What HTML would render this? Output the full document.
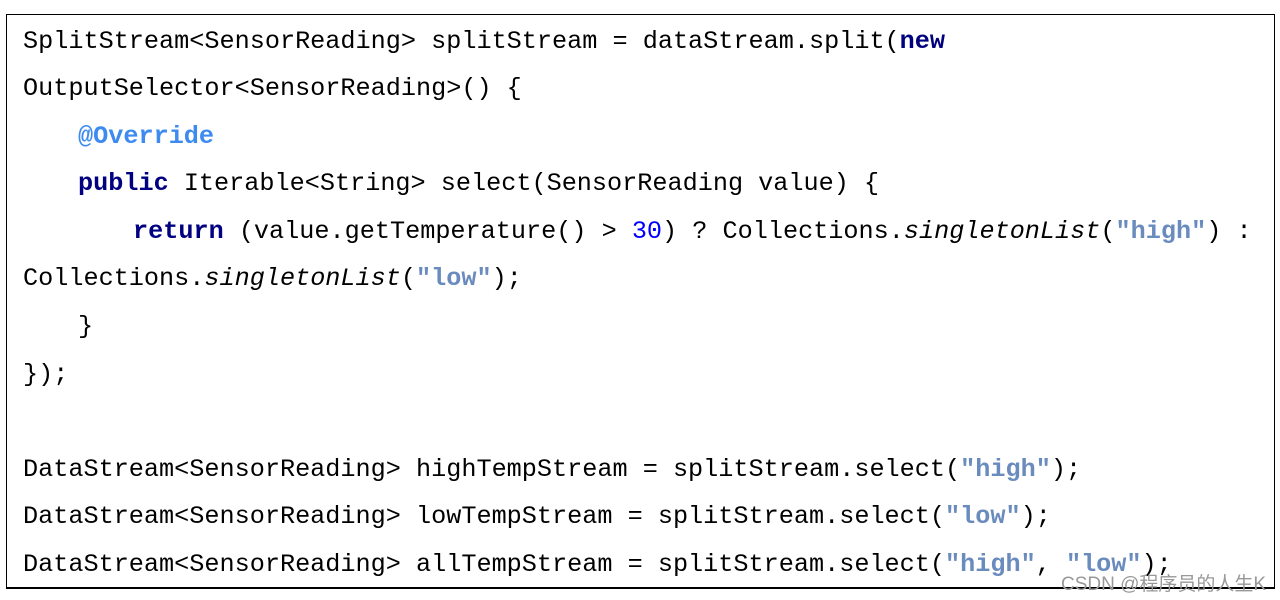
<!DOCTYPE html>
<html><head><meta charset="utf-8"><style>
body{margin:0;width:1280px;height:600px;background:#fff;position:relative;overflow:hidden}
.box{position:absolute;left:6px;top:14px;width:1267px;height:572px;border:1px solid #000;border-bottom-width:2px}
.code{position:absolute;left:23px;top:17.5px;font-family:"Liberation Mono",monospace;font-size:25.2px;line-height:47.6px;color:#000;white-space:pre}
.k{color:#000080;font-weight:bold}
.s{color:#6a8bbd;font-weight:bold}
.a{color:#3d8bf0;font-weight:bold}
.n{color:#0000ff}
i{font-style:italic}
.i1{padding-left:55px}.i2{padding-left:110px}
.wm{position:absolute;left:1061px;top:569px;font-family:"Liberation Sans","Noto Sans CJK SC",sans-serif;font-size:19px;color:#999}
</style></head><body>
<div class="box"></div>
<div class="code"><div>SplitStream&lt;SensorReading&gt; splitStream = dataStream.split(<span class="k">new</span></div><div>OutputSelector&lt;SensorReading&gt;() {</div><div class="i1"><span class="a">@Override</span></div><div class="i1"><span class="k">public</span> Iterable&lt;String&gt; select(SensorReading value) {</div><div class="i2"><span class="k">return</span> (value.getTemperature() &gt; <span class="n">30</span>) ? Collections.<i>singletonList</i>(<span class="s">"high"</span>) :</div><div>Collections.<i>singletonList</i>(<span class="s">"low"</span>);</div><div class="i1">}</div><div>});</div><div> </div><div>DataStream&lt;SensorReading&gt; highTempStream = splitStream.select(<span class="s">"high"</span>);</div><div>DataStream&lt;SensorReading&gt; lowTempStream = splitStream.select(<span class="s">"low"</span>);</div><div>DataStream&lt;SensorReading&gt; allTempStream = splitStream.select(<span class="s">"high"</span>, <span class="s">"low"</span>);</div></div>
<div class="wm">CSDN @程序员的人生K</div>
</body></html>
